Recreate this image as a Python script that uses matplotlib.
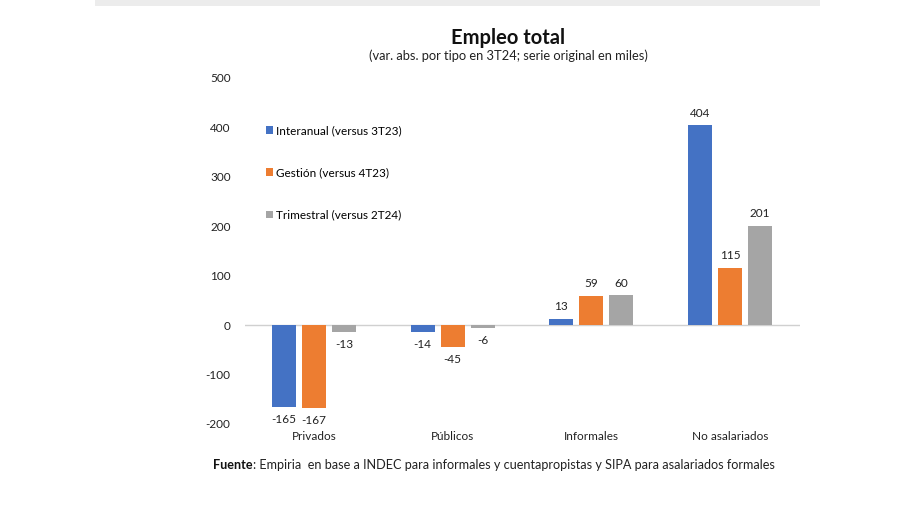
import matplotlib
matplotlib.use("Agg")
import matplotlib.pyplot as plt
import numpy as np
from matplotlib.patches import Rectangle

categories = ["Privados", "Públicos", "Informales", "No asalariados"]
series_names = ["Interanual (versus 3T23)", "Gestión (versus 4T23)", "Trimestral (versus 2T24)"]
interanual = [-165, -14, 13, 404]
gestion = [-167, -45, 59, 115]
trimestral = [-13, -6, 60, 201]
yticks = [-200, -100, 0, 100, 200, 300, 400, 500]

colors = ["#4472C4", "#ED7D31", "#A5A5A5"]
plt.rcParams['font.family'] = ['Lato', 'DejaVu Sans']

fig = plt.figure(figsize=(9, 5.05), dpi=100)
fig.patches.append(Rectangle((95/900, 1-6/505), 725/900, 6/505, transform=fig.transFigure,
                             facecolor="#ececec", edgecolor="none"))
ax = fig.add_axes([244.5/900, 1-424/505, 555/900, 346/505])

x = np.arange(len(categories))
w = 0.173
step = 0.216
all_series = [interanual, gestion, trimestral]
for i, (vals, name, c) in enumerate(zip(all_series, series_names, colors)):
    pos = x + (i - 1) * step
    ax.bar(pos, vals, width=w, color=c, label=name, zorder=3)
    for p, v in zip(pos, vals):
        if v >= 0:
            ax.annotate(f"{v}", (p, v), xytext=(0, 5), textcoords="offset points",
                        ha="center", va="bottom", fontsize=8.5, color="#222222")
        else:
            ax.annotate(f"{v}", (p, v), xytext=(0, -5), textcoords="offset points",
                        ha="center", va="top", fontsize=8.5, color="#222222")

ax.set_xlim(-0.5, 3.5)
ax.set_ylim(-200, 500)
ax.set_yticks(yticks)
ax.set_yticklabels([str(t) for t in yticks], fontsize=8.5, color="#222222")
ax.set_xticks(x)
ax.set_xticklabels(categories, fontsize=8.5, color="#222222")
ax.tick_params(axis="both", length=0)
ax.tick_params(axis="y", pad=10)
ax.tick_params(axis="x", pad=5)
for s in ax.spines.values():
    s.set_visible(False)
ax.axhline(0, color="#d0d0d0", lw=1, zorder=2)

ax.legend(loc="upper left", bbox_to_anchor=(0.03, 0.878), frameon=False,
          fontsize=8.5, handlelength=0.6, handleheight=0.6, handletextpad=0.3,
          labelspacing=2.65, borderaxespad=0)

fig.text(508/900, 1-38/505, "Empleo total", ha="center", va="center",
         fontsize=14.5, fontweight="bold", color="#111111")
fig.text(508/900, 1-56/505, "(var. abs. por tipo en 3T24; serie original en miles)",
         ha="center", va="center", fontsize=9.3, color="#222222")

t1 = fig.text(213/900, 1-465/505, "Fuente", ha="left", va="center", fontsize=9.1,
              fontweight="bold", color="#111111")
fig.canvas.draw()
bb = t1.get_window_extent(fig.canvas.get_renderer())
fig.text(bb.x1 / fig.bbox.width, 1-465/505,
         ": Empiria  en base a INDEC para informales y cuentapropistas y SIPA para asalariados formales",
         ha="left", va="center", fontsize=9.1, color="#222222")
fig.savefig("out.png", dpi=100)
